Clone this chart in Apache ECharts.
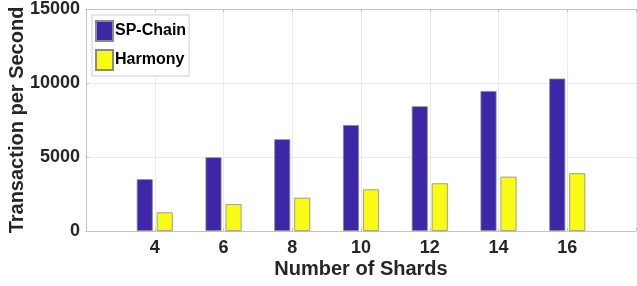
<!DOCTYPE html>
<html>
<head>
<meta charset="utf-8">
<script src="https://cdn.jsdelivr.net/npm/echarts@6/dist/echarts.min.js"></script>
<style>html,body{margin:0;padding:0;background:#fff}#c{width:637px;height:286px}</style>
</head>
<body>
<div id="c"></div>
<script>
const shards = [4, 6, 8, 10, 12, 14, 16];
const spChain = [3500, 4980, 6200, 7160, 8430, 9460, 10300];
const harmony = [1260, 1820, 2250, 2810, 3220, 3670, 3900];
const yTicks = [0, 5000, 10000, 15000];
const xLabelsShown = [4, 6, 8, 10, 12, 14, 16];

const chart = echarts.init(document.getElementById('c'));
const txt = '#262626';
const axisGray = '#c4c4c4';
const font = 'Liberation Sans, Arial, sans-serif';
chart.setOption({
  animation: false,
  grid: {left: 86, right: 1, top: 9, bottom: 55, outerBoundsMode: 'none', containLabel: false},
  legend: {
    left: 92, top: 15, orient: 'vertical', icon: 'rect',
    padding: [5, 3, 5, 3], itemGap: 7, itemWidth: 17, itemHeight: 20,
    borderColor: '#cfcfcf', borderWidth: 1, backgroundColor: '#fff',
    textStyle: {fontFamily: font, fontWeight: 'bold', fontSize: 16, color: '#000', padding: [0, 0, 0, -3]},
    data: ['SP-Chain', 'Harmony']
  },
  xAxis: [{
    type: 'value', min: 2, max: 18, interval: 2,
    name: 'Number of Shards', nameLocation: 'middle', nameGap: 28, nameMoveOverlap: false,
    nameTextStyle: {fontFamily: font, fontWeight: 'bold', fontSize: 20, color: txt},
    axisLine: {lineStyle: {color: axisGray, width: 1}},
    axisTick: {show: true, inside: true, length: 3, lineStyle: {color: axisGray}},
    axisLabel: {margin: 8, fontFamily: font, fontWeight: 'bold', fontSize: 18, color: txt,
      formatter: v => xLabelsShown.includes(v) ? String(v) : ''},
    splitLine: {show: true, lineStyle: {color: '#ebebeb', width: 1}}
  }, {
    type: 'value', min: 2, max: 18, interval: 2, position: 'top',
    axisLine: {show: true, lineStyle: {color: axisGray, width: 1}},
    axisTick: {show: true, inside: true, length: 3, lineStyle: {color: axisGray}},
    axisLabel: {show: false}, splitLine: {show: false}
  }],
  yAxis: {
    type: 'value', min: 0, max: 15000, interval: 5000,
    name: 'Transaction per Second', nameLocation: 'middle', nameGap: 59, nameMoveOverlap: false,
    nameTextStyle: {fontFamily: font, fontWeight: 'bold', fontSize: 20, color: txt},
    axisLine: {show: true, lineStyle: {color: axisGray, width: 1}},
    axisTick: {show: true, inside: true, length: 3, lineStyle: {color: axisGray}},
    axisLabel: {margin: 6, fontFamily: font, fontWeight: 'bold', fontSize: 18, color: txt,
      formatter: v => yTicks.includes(v) ? String(v) : ''},
    splitLine: {show: true, lineStyle: {color: '#ebebeb', width: 1}}
  },
  series: [{
    name: 'SP-Chain', type: 'bar', barWidth: 16, barGap: '25%',
    itemStyle: {color: '#3D26A8', borderColor: '#8a8a8a', borderWidth: 0.8},
    data: shards.map((s, i) => [s, spChain[i]])
  }, {
    name: 'Harmony', type: 'bar', barWidth: 16, barGap: '25%',
    itemStyle: {color: '#F9FB15', borderColor: '#8a8a8a', borderWidth: 0.8},
    data: shards.map((s, i) => [s, harmony[i]])
  }]
});
</script>
</body>
</html>
